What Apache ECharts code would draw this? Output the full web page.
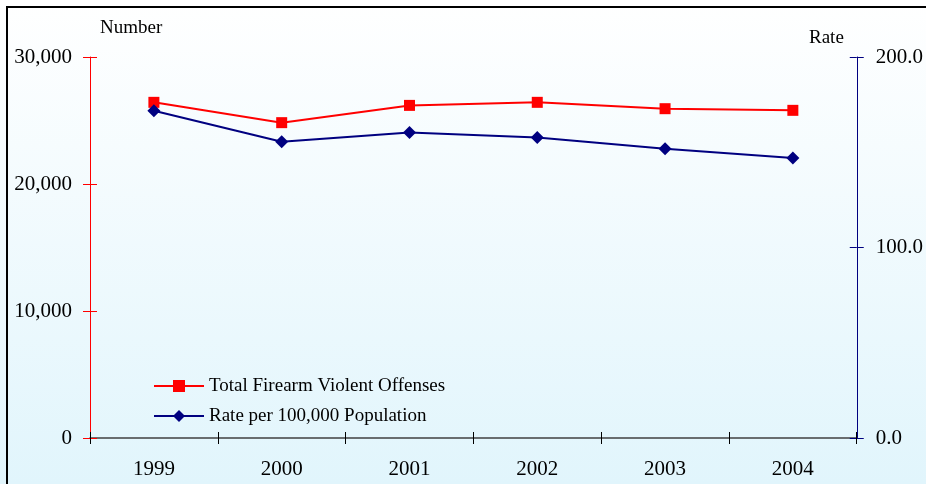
<!DOCTYPE html>
<html>
<head>
<meta charset="utf-8">
<script src="https://cdn.jsdelivr.net/npm/echarts@6/dist/echarts.min.js"></script>
<style>html,body{margin:0;padding:0;}#c{width:926px;height:484px;}</style>
</head>
<body>
<div id="c"></div>
<script>
const years = ['1999', '2000', '2001', '2002', '2003', '2004'];
const totalOffenses = [26430, 24830, 26190, 26430, 25930, 25800];
const ratePer100k = [171.8, 155.5, 160.4, 157.8, 151.9, 147.0];
const seriesNames = ['Total Firearm Violent Offenses', 'Rate per 100,000 Population'];
const leftAxisName = 'Number';
const rightAxisName = 'Rate';

const FONT = '"Liberation Serif", "Times New Roman", serif';
const chart = echarts.init(document.getElementById('c'));
const leftBase = {type: 'value', position: 'left', min: 0, max: 30000, interval: 10000, splitLine: {show: false}};
const rightBase = {type: 'value', position: 'right', min: 0, max: 200, interval: 100, splitLine: {show: false}};
chart.setOption({
  backgroundColor: {type: 'linear', x: 0, y: 0, x2: 0, y2: 1, colorStops: [{offset: 0, color: '#ffffff'}, {offset: 1, color: '#e1f5fc'}]},
  animation: false,
  grid: {left: 90, right: 69, top: 57, bottom: 46},
  legend: {
    orient: 'vertical', left: 148, top: 371, itemWidth: 50, itemHeight: 15, itemGap: 10,
    textStyle: {fontFamily: FONT, fontSize: 19, color: '#000', lineHeight: 20},
    data: seriesNames
  },
  graphic: [
    {type: 'rect', shape: {x: 7, y: 7, width: 1000, height: 1000}, style: {fill: 'none', stroke: '#000', lineWidth: 2}, silent: true},
    {type: 'text', left: 100, top: 19, style: {text: leftAxisName, font: '19px ' + FONT, fill: '#000'}},
    {type: 'text', left: 809, top: 29, style: {text: rightAxisName, font: '19px ' + FONT, fill: '#000'}}
  ],
  xAxis: [
    {type: 'category', data: years, boundaryGap: true, position: 'bottom',
     axisLine: {lineStyle: {color: '#404040', width: 1.5}},
     axisTick: {show: true, length: 6, lineStyle: {color: '#000'}},
     axisLabel: {fontFamily: FONT, fontSize: 21, color: '#000', margin: 21}},
    {type: 'category', data: years, boundaryGap: true, position: 'bottom',
     axisLine: {show: false}, axisLabel: {show: false},
     axisTick: {show: true, inside: true, length: 6, lineStyle: {color: '#000'}}}
  ],
  yAxis: [
    Object.assign({}, leftBase, {
      axisLine: {show: true, lineStyle: {color: '#ff0000', width: 1}},
      axisTick: {show: true, length: 7, lineStyle: {color: '#ff0000'}},
      axisLabel: {fontFamily: FONT, fontSize: 21, color: '#000', margin: 18}}),
    Object.assign({}, rightBase, {
      axisLine: {show: true, lineStyle: {color: '#000080', width: 1}},
      axisTick: {show: true, length: 7, lineStyle: {color: '#000080'}},
      axisLabel: {fontFamily: FONT, fontSize: 21, color: '#000', margin: 19, formatter: v => v.toFixed(1)}}),
    Object.assign({}, leftBase, {
      axisLine: {show: false}, axisLabel: {show: false},
      axisTick: {show: true, inside: true, length: 7, lineStyle: {color: '#ff0000'}}}),
    Object.assign({}, rightBase, {
      axisLine: {show: false}, axisLabel: {show: false},
      axisTick: {show: true, inside: true, length: 7, lineStyle: {color: '#000080'}}})
  ],
  series: [
    {name: seriesNames[0], type: 'line', yAxisIndex: 0, data: totalOffenses,
     symbol: 'rect', symbolSize: 11, lineStyle: {color: '#ff0000', width: 2}, itemStyle: {color: '#ff0000'}},
    {name: seriesNames[1], type: 'line', yAxisIndex: 1, data: ratePer100k,
     symbol: 'diamond', symbolSize: 13, lineStyle: {color: '#000080', width: 2}, itemStyle: {color: '#000080'}}
  ]
});
</script>
</body>
</html>
